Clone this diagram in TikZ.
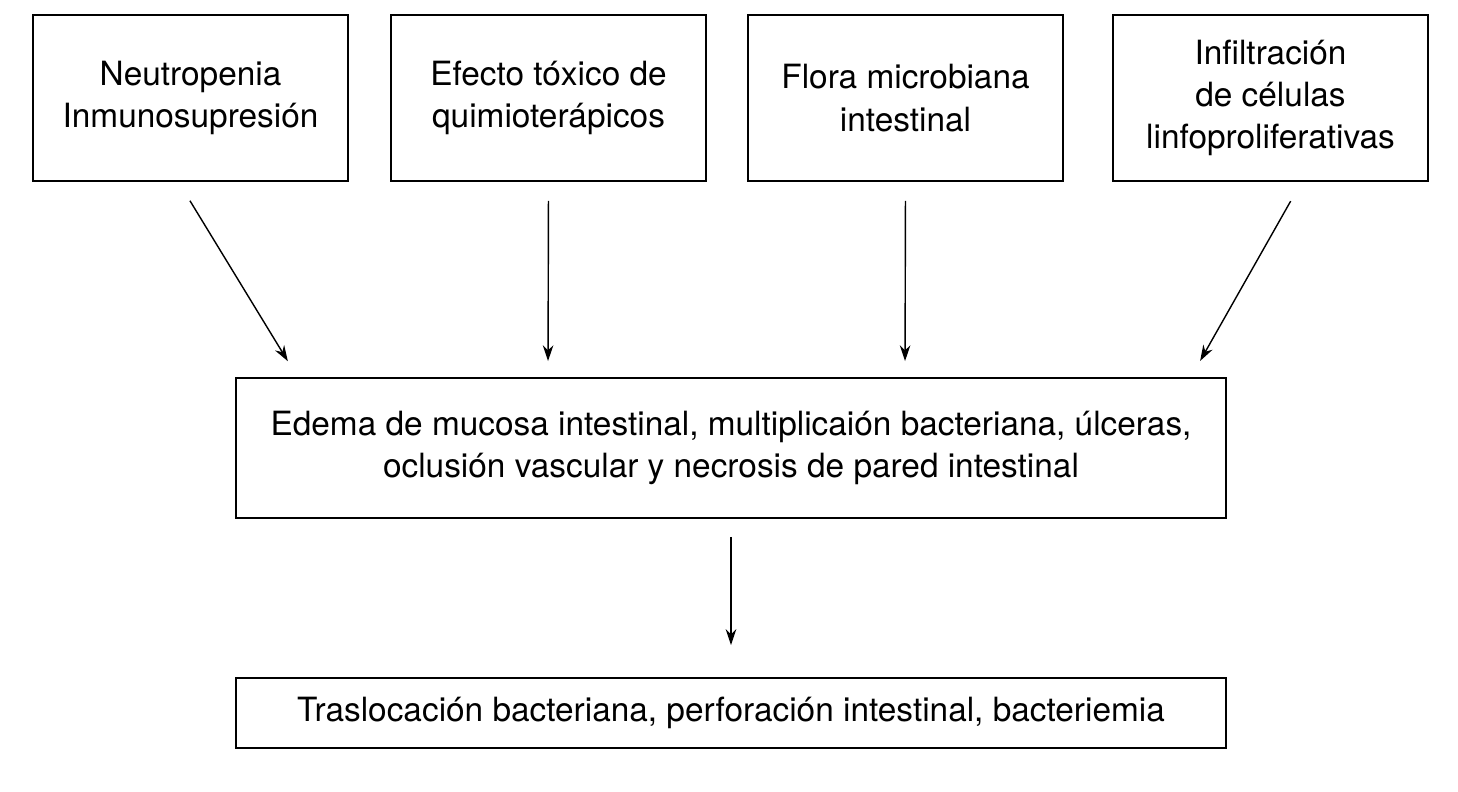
\documentclass[tikz,border=0pt]{standalone}
\usepackage{fontspec}
\setmainfont{TeX Gyre Heros}
\usetikzlibrary{arrows.meta}

\begin{document}
\begin{tikzpicture}[>={Stealth[length=9pt,width=6pt]},
    caja/.style={draw,line width=1.1pt,align=center,inner sep=0pt,
        font=\fontsize{19pt}{24pt}\selectfont},
    flecha/.style={->,line width=0.8pt}]
    \useasboundingbox (0,0) rectangle (29.16,-15.82);
    \node[caja,minimum width=6.3cm,minimum height=3.32cm] (neu) at (3.81,-1.96) {Neutropenia\\Inmunosupresión};
    \node[caja,minimum width=6.3cm,minimum height=3.32cm] (efe) at (10.97,-1.96) {Efecto tóxico de\\quimioterápicos};
    \node[caja,minimum width=6.3cm,minimum height=3.32cm] (flo) at (18.11,-1.96) {Flora microbiana\\intestinal};
    \node[caja,minimum width=6.3cm,minimum height=3.32cm] (inf) at (25.41,-1.96) {Infiltración\\de células\\linfoproliferativas};
    \node[caja,minimum width=19.8cm,minimum height=2.8cm] (ede) at (14.62,-8.96) {Edema de mucosa intestinal, multiplicaión bacteriana, úlceras,\\oclusión vascular y necrosis de pared intestinal};
    \node[caja,minimum width=19.8cm,minimum height=1.4cm] (tra) at (14.62,-14.26) {Traslocación bacteriana, perforación intestinal, bacteriemia};
    \draw[flecha,shorten <=0.44cm,shorten >=0.37cm] ([xshift=-0.24cm]neu.south) -- ([xshift=-8.67cm]ede.north);
    \draw[flecha,shorten <=0.38cm,shorten >=0.32cm] (efe.south) -- ([xshift=-3.66cm]ede.north);
    \draw[flecha,shorten <=0.38cm,shorten >=0.32cm] (flo.south) -- ([xshift=3.48cm]ede.north);
    \draw[flecha,shorten <=0.44cm,shorten >=0.37cm] ([xshift=0.62cm]inf.south) -- ([xshift=9.2cm]ede.north);
    \draw[flecha,shorten <=0.36cm,shorten >=0.64cm] (ede.south) -- (tra.north);
\end{tikzpicture}
\end{document}
